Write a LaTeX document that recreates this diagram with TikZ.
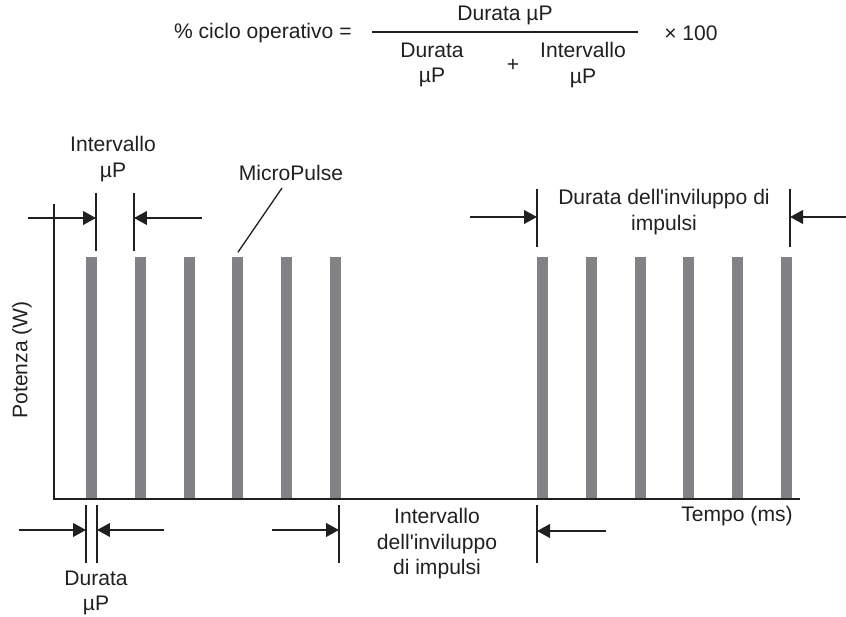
\documentclass[tikz,border=0pt]{standalone}
\usepackage{fontspec}
\setmainfont{Liberation Sans}
\usetikzlibrary{arrows.meta}
\definecolor{pulsegray}{RGB}{128,130,133}
\definecolor{inkdark}{RGB}{35,31,32}

\begin{document}
\begin{tikzpicture}[x=0.02cm,y=-0.02cm]
  \tikzset{lbl/.style = {inner sep=0pt,align=center,text=inkdark,font=\fontsize{12}{14.5}\selectfont}}
  \tikzset{pulse/.style = {fill=pulsegray,draw=none,inner sep=0pt,minimum width=0.22cm,minimum height=4.84cm,anchor=south}}
  \tikzset{tick/.style = {draw=inkdark,line width=1.4pt}}
  \tikzset{arr/.style = {draw=inkdark,line width=1.4pt,-{Triangle[length=0.26cm,width=0.27cm]}}}
  \tikzset{thinline/.style = {draw=inkdark,line width=0.75pt}}

  \useasboundingbox (0,0) rectangle (846,617);

% formula
\node[lbl,anchor=east] (pct) at (352,33) {\% ciclo operativo =};
\node[lbl] (num) at (505,15) {Durata µP};
\coordinate (fl) at (372,32);
\coordinate (fr) at (638,32);
\draw[inkdark,line width=0.6pt] (fl) -- (fr);
\node[lbl] (den1) at (432,65) {Durata\\µP};
\node[lbl] (plus) at (513,65) {+};
\node[lbl] (den2) at (583,65) {Intervallo\\µP};
\node[lbl] (times) at (691,33) {× 100};

% pulses
\foreach \i/\x in {1/91.5,2/140.3,3/189.1,4/237.9,5/286.7,6/335.5,
                   7/542.5,8/591.3,9/640.1,10/688.9,11/737.7,12/786.5}
  \node[pulse] (p\i) at (\x,499) {};

\coordinate (o) at (54,499);
\coordinate (ytop) at (54,204);
\coordinate (xend) at (800,499);
\draw[thinline] (ytop) -- (o) -- (xend);

\node[lbl,rotate=90] (pot) at (22,360) {Potenza (W)};
\node[lbl,anchor=east] (tempo) at (793,516) {Tempo (ms)};

% dimension ticks
\foreach \n/\x/\y in {ia/96/193,ib/134/193,ea/537/189,eb/790/189,
                      da/86/505,db/97/505,ga/339/505,gb/537/505}
  {\coordinate (\n1) at (\x,\y); \coordinate (\n2) at (\x,\y+58);}
\foreach \n in {ia,ib,ea,eb,da,db,ga,gb}
  \draw[tick] (\n1) -- (\n2);

\coordinate (ta) at (28,218);
\coordinate (tb) at (202,218);
\coordinate (tc) at (470,217);
\coordinate (td) at (846,217);
\coordinate (te) at (19,530);
\coordinate (tf) at (164,530);
\coordinate (tg) at (272,530);
\coordinate (th) at (606,531);

\draw[arr] (ta) -- (ia1 |- ta);
\draw[arr] (tb) -- (ib1 |- tb);
\draw[arr] (tc) -- (ea1 |- tc);
\draw[arr] (td) -- (eb1 |- td);
\draw[arr] (te) -- (da1 |- te);
\draw[arr] (tf) -- (db1 |- tf);
\draw[arr] (tg) -- (ga1 |- tg);
\draw[arr] (th) -- (gb1 |- th);

% labels
\node[lbl] (ip) at (113,159) {Intervallo\\µP};
\node[lbl] (mp) at (291,173) {MicroPulse};
\coordinate (ms) at (282,188);
\draw[thinline] (ms) -- ([yshift=0.08cm]p4.north);
\node[lbl] (env) at (664,212) {Durata dell{\textquotesingle}inviluppo di\\impulsi};
\node[lbl] (gap) at (437,544) {Intervallo\\dell{\textquotesingle}inviluppo\\di impulsi};
\node[lbl] (dur) at (96,593) {Durata\\µP};

\end{tikzpicture}
\end{document}
